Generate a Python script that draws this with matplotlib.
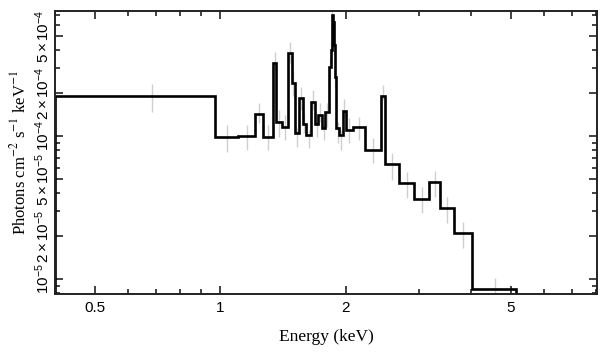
import numpy as np
import matplotlib
matplotlib.use("Agg")
import matplotlib.pyplot as plt
from matplotlib.ticker import FixedLocator, FixedFormatter, NullFormatter

# bin edges (keV) of the folded model
edges = [0.40, 0.970, 1.105, 1.208, 1.264, 1.337, 1.362, 1.408, 1.454, 1.489,
         1.508, 1.544, 1.576, 1.609, 1.654, 1.691, 1.716, 1.754, 1.788, 1.826,
         1.841, 1.851, 1.862, 1.872, 1.883, 1.898, 1.928, 1.971, 2.001, 2.084,
         2.223, 2.439, 2.494, 2.689, 2.923, 3.177, 3.372, 3.642, 4.032, 5.130]

# model values (photons cm^-2 s^-1 keV^-1)
model = [1.90e-4, 9.89e-5, 1.005e-4, 1.425e-4, 9.89e-5, 3.22e-4, 1.26e-4, 1.16e-4,
         3.81e-4, 2.35e-4, 1.05e-4, 1.84e-4, 1.21e-4, 1.02e-4, 1.74e-4, 1.21e-4,
         1.40e-4, 1.14e-4, 1.48e-4, 3.04e-4, 3.99e-4, 7.02e-4, 6.27e-4, 4.33e-4,
         2.59e-4, 1.14e-4, 1.02e-4, 1.50e-4, 1.10e-4, 1.16e-4, 7.98e-5, 1.90e-4,
         6.34e-5, 4.67e-5, 3.61e-5, 4.79e-5, 3.15e-5, 2.09e-5, 8.47e-6]

# data points and 1-sigma errors
data = [1.89e-4, 9.84e-5, 9.96e-5, 1.467e-4, 9.96e-5, 3.32e-4, 1.25e-4, 1.17e-4,
        3.89e-4, 2.35e-4, 9.88e-5, 1.86e-4, 1.25e-4, 9.6e-5, 1.81e-4, 1.17e-4,
        1.477e-4, 1.116e-4, 1.43e-4, 3.0e-4, 4.0e-4, 7.0e-4, 6.3e-4, 4.3e-4,
        2.6e-4, 1.07e-4, 9.5e-5, 1.586e-4, 1.115e-4, 1.148e-4, 8.08e-5, 2.03e-4,
        6.27e-5, 4.65e-5, 3.65e-5, 4.72e-5, 3.1e-5, 2.08e-5, 8.5e-6]
err = [4.2e-5, 2.1e-5, 2.0e-5, 2.3e-5, 2.0e-5, 5.6e-5, 2.7e-5, 2.3e-5,
       6.5e-5, 4.5e-5, 1.5e-5, 3.4e-5, 2.0e-5, 1.4e-5, 2.9e-5, 1.9e-5,
       2.2e-5, 1.8e-5, 2.7e-5, 5.0e-5, 6.0e-5, 8.0e-5, 8.0e-5, 6.0e-5,
       4.0e-5, 1.8e-5, 1.5e-5, 2.3e-5, 2.2e-5, 2.1e-5, 1.6e-5, 2.4e-5,
       1.35e-5, 9.6e-6, 7.6e-6, 9.7e-6, 6.5e-6, 4.3e-6, 1.7e-6]

xticks = [0.5, 1, 2, 5]
xticklabels = ["0.5", "1", "2", "5"]
yticks = [1e-5, 2e-5, 5e-5, 1e-4, 2e-4, 5e-4]
yticklabels = [r"$10^{-5}$", r"$2\times10^{-5}$", r"$5\times10^{-5}$",
               r"$10^{-4}$", r"$2\times10^{-4}$", r"$5\times10^{-4}$"]

plt.rcParams["font.family"] = ["Liberation Sans", "DejaVu Sans"]
plt.rcParams["mathtext.fontset"] = "custom"
plt.rcParams["mathtext.rm"] = "Liberation Sans"
plt.rcParams["mathtext.it"] = "Liberation Sans:italic"

fig = plt.figure(figsize=(6.08, 3.57), dpi=100)
ax = fig.add_axes([55 / 608, 1 - 294 / 357, 542 / 608, 283 / 357])

e = np.array(edges)
centers = (e[:-1] + e[1:]) / 2
ax.vlines(centers, np.array(data) - np.array(err), np.array(data) + np.array(err),
          color="#cfcfcf", lw=1.0, zorder=1)
ax.stairs(model, edges, baseline=1e-7, color="black", lw=1.9, zorder=2)

ax.set_xscale("log")
ax.set_yscale("log")
ax.set_xlim(0.40, 8.05)
ax.set_ylim(7.85e-6, 7.5e-4)

ax.xaxis.set_major_locator(FixedLocator(xticks))
ax.xaxis.set_major_formatter(FixedFormatter(xticklabels))
ax.xaxis.set_minor_locator(FixedLocator([0.4, 0.6, 0.7, 0.8, 0.9, 3, 4, 6, 7, 8]))
ax.xaxis.set_minor_formatter(NullFormatter())

ax.yaxis.set_major_locator(FixedLocator(yticks))
ax.yaxis.set_major_formatter(FixedFormatter(yticklabels))
yminor = [m * 10.0 ** p for p in (-6, -5, -4) for m in (3, 4, 6, 7, 8, 9)]
ax.yaxis.set_minor_locator(FixedLocator(yminor))
ax.yaxis.set_minor_formatter(NullFormatter())

ax.tick_params(which="both", direction="in", top=True, right=True, width=1.2,
               labelsize=11, color="#222222")
ax.tick_params(which="major", length=6)
ax.tick_params(which="minor", length=3.5)
ax.tick_params(axis="y", pad=2)
ax.tick_params(axis="x", pad=5)
for lbl in ax.get_yticklabels():
    lbl.set_rotation(90)
    lbl.set_va("center")

for sp in ax.spines.values():
    sp.set_linewidth(1.4)
    sp.set_color("#222222")

ax.set_xlabel("Energy (keV)", family="Liberation Serif", fontsize=12.5,
              math_fontfamily="stix", labelpad=10)
ax.set_ylabel(r"Photons cm$^{-2}$ s$^{-1}$ keV$^{-1}$", family="Liberation Serif",
              fontsize=12, math_fontfamily="stix", labelpad=3)

fig.savefig("out.png", dpi=100)
